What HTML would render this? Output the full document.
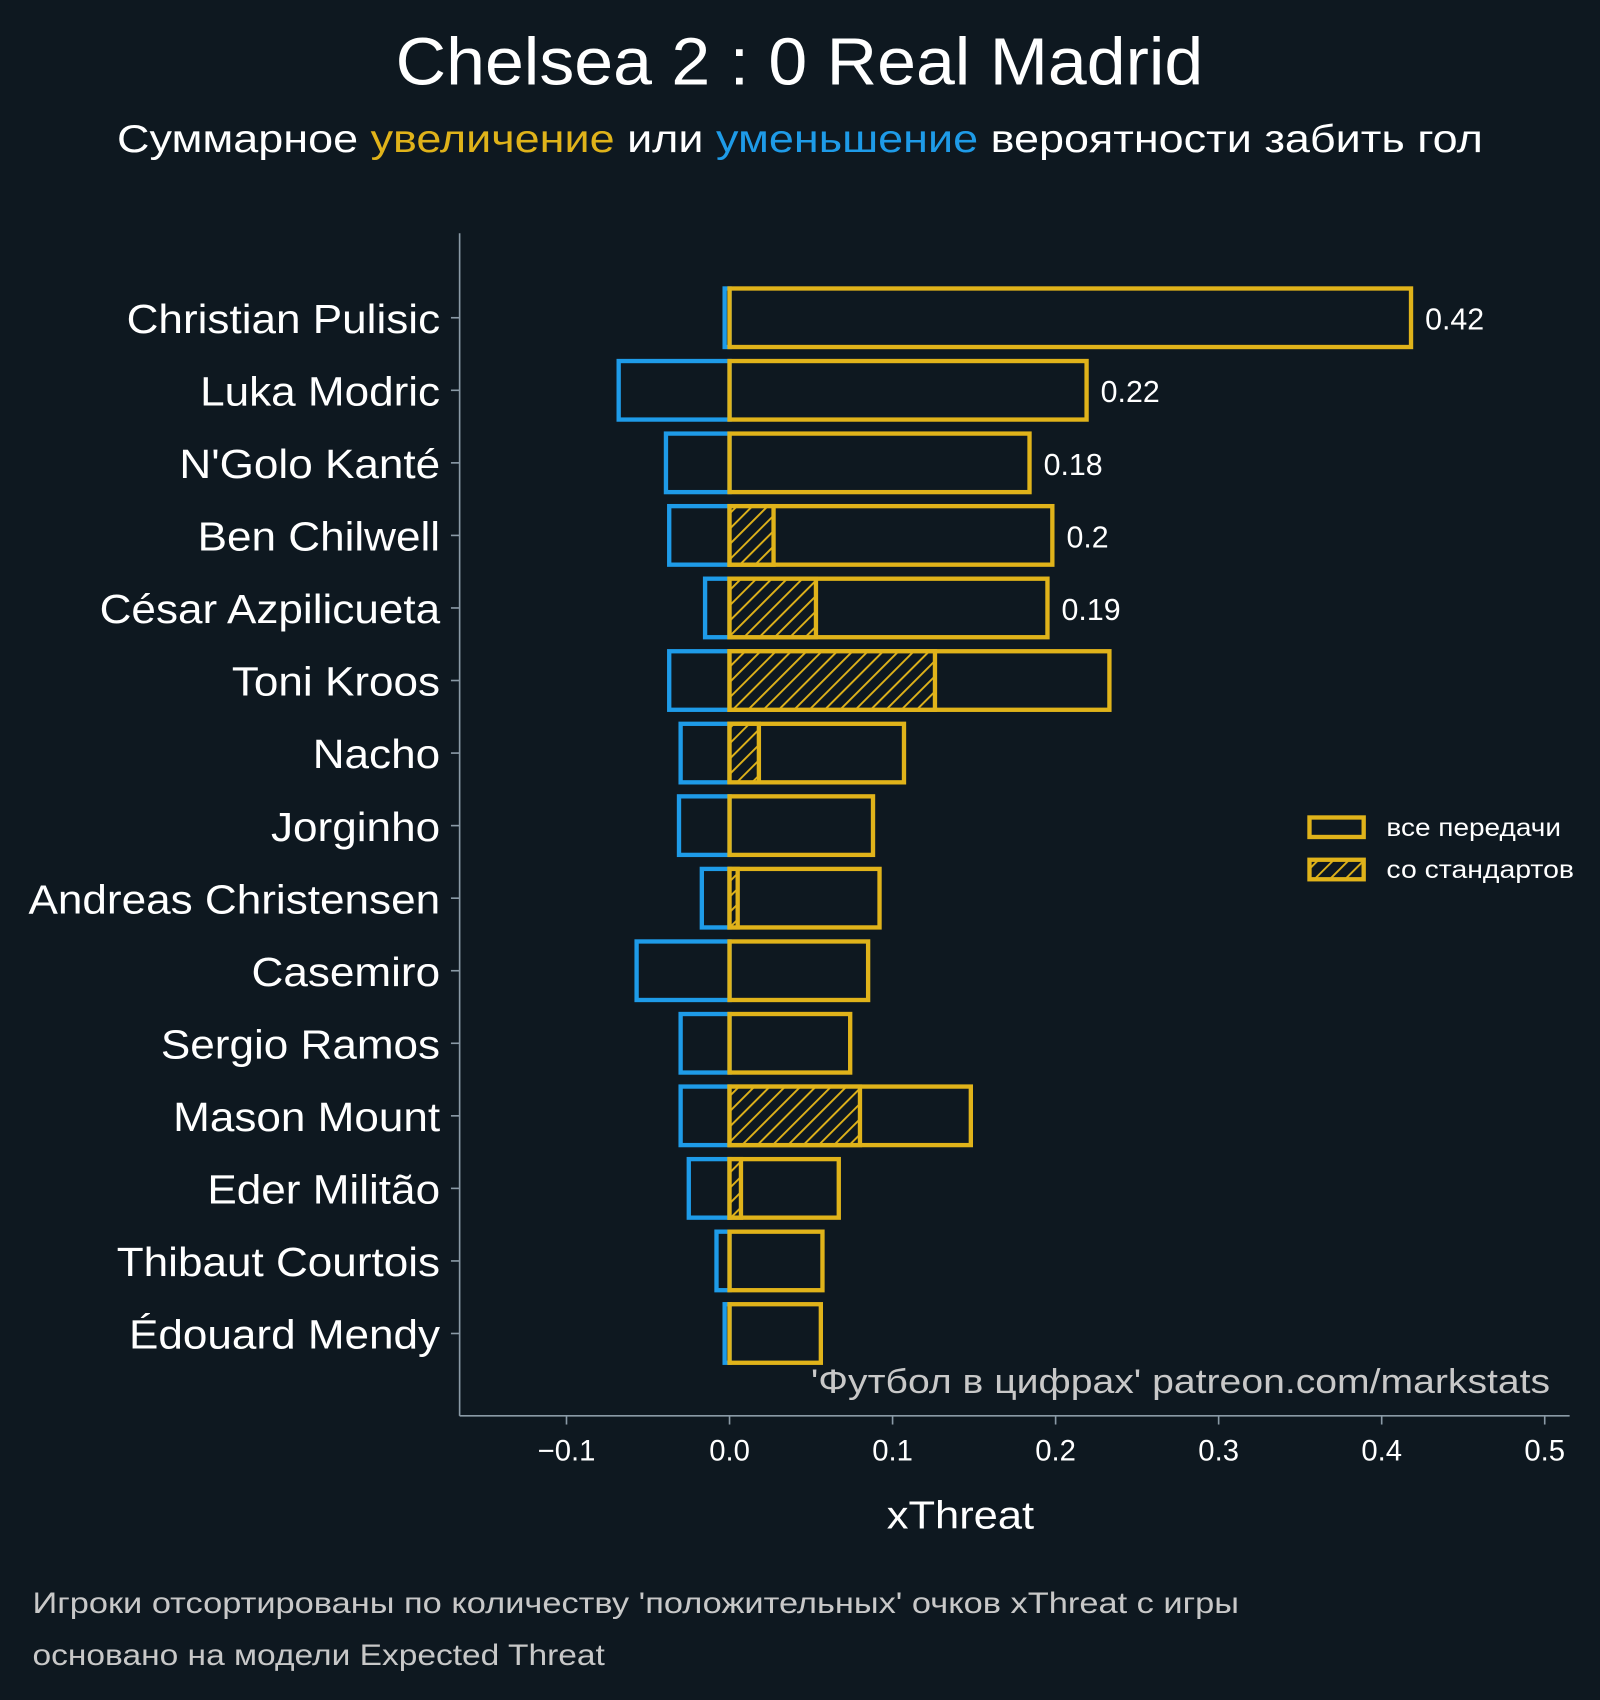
<!DOCTYPE html>
<html><head><meta charset="utf-8"><style>
html,body{margin:0;padding:0;background:#0e1820;}
svg{display:block;font-family:"Liberation Sans","DejaVu Sans",sans-serif;}
</style></head><body>
<svg id="chart" width="1600" height="1700" viewBox="0 0 1476 1568" xmlns="http://www.w3.org/2000/svg">
<defs>
<pattern id="hatch" patternUnits="userSpaceOnUse" width="10" height="10" patternTransform="rotate(45)">
<rect width="10" height="10" fill="#0e1820"/>
<line x1="0" y1="0" x2="0" y2="10" stroke="#e0b31a" stroke-width="3.5"/>
</pattern>
</defs>
<rect width="1476" height="1568" fill="#0e1820"/>
<text x="365" y="78" textLength="745" lengthAdjust="spacingAndGlyphs" fill="#ffffff" font-size="62">Chelsea 2 : 0 Real Madrid</text>
<text x="108" y="140" textLength="1260" lengthAdjust="spacingAndGlyphs" fill="#ffffff" font-size="36">Суммарное <tspan fill="#e0b31a">увеличение</tspan> или <tspan fill="#1e9be8">уменьшение</tspan> вероятности забить гол</text>
<g id="plot"></g>
<text x="748" y="1285" textLength="682" lengthAdjust="spacingAndGlyphs" fill="#c8c8c8" font-size="32">'Футбол в цифрах' patreon.com/markstats</text>
<text x="818" y="1410" textLength="136" lengthAdjust="spacingAndGlyphs" fill="#ffffff" font-size="36">xThreat</text>
<g>
<rect x="1208" y="754" width="50" height="18" fill="none" stroke="#e0b31a" stroke-width="4"/>
<text x="1279" y="771" textLength="161" lengthAdjust="spacingAndGlyphs" fill="#ffffff" font-size="23">все передачи</text>
<rect x="1208" y="793" width="50" height="18" fill="url(#hatch)" stroke="#e0b31a" stroke-width="4"/>
<text x="1279" y="810" textLength="173" lengthAdjust="spacingAndGlyphs" fill="#ffffff" font-size="23">со стандартов</text>
</g>
<text x="30" y="1488" textLength="1113" lengthAdjust="spacingAndGlyphs" fill="#c8c8c8" font-size="27">Игроки отсортированы по количеству 'положительных' очков xThreat с игры</text>
<text x="30" y="1536" textLength="528" lengthAdjust="spacingAndGlyphs" fill="#c8c8c8" font-size="27">основано на модели Expected Threat</text>
</svg>
<script>
const players = ["Christian Pulisic","Luka Modric","N'Golo Kanté","Ben Chilwell","César Azpilicueta","Toni Kroos","Nacho","Jorginho","Andreas Christensen","Casemiro","Sergio Ramos","Mason Mount","Eder Militão","Thibaut Courtois","Édouard Mendy"];
const positiveValues = [0.418,0.219,0.184,0.198,0.195,0.233,0.107,0.088,0.092,0.085,0.074,0.148,0.067,0.057,0.056];
const negativeValues = [-0.003,-0.068,-0.039,-0.037,-0.015,-0.037,-0.030,-0.031,-0.017,-0.057,-0.030,-0.030,-0.025,-0.008,-0.003];
const setPieceValues = [0,0,0,0.027,0.053,0.126,0.018,0,0.005,0,0,0.080,0.007,0,0];
const valueLabels = ["0.42","0.22","0.18","0.2","0.19","","","","","","","","","",""];
const xTicks = [-0.1,0.0,0.1,0.2,0.3,0.4,0.5];
const xTickLabels = ["\u22120.1","0.0","0.1","0.2","0.3","0.4","0.5"];

const NS="http://www.w3.org/2000/svg";
const plot=document.getElementById('plot');
const x0=673, pxPerUnit=1504;
const xScale=v=>x0+v*pxPerUnit;
const rowTop=293, rowStep=66.93, barH=54;
const yScale=i=>rowTop+i*rowStep;
function mk(tag,attrs){const e=document.createElementNS(NS,tag);for(const k in attrs)e.setAttribute(k,attrs[k]);plot.appendChild(e);return e;}

let a=mk('line',{x1:424,y1:215,x2:424,y2:1306,stroke:'#8a9aa6','stroke-width':1.5});


a=mk('line',{x1:424,y1:1306,x2:1448,y2:1306,stroke:'#8a9aa6','stroke-width':1.5});



xTicks.forEach((t,i)=>{
  const x=xScale(t);
  const l=mk('line',{x1:x,y1:1306,x2:x,y2:1314,stroke:'#8a9aa6','stroke-width':1.5});
  
  
  const tx=mk('text',{x:x,y:1347,'text-anchor':'middle',fill:'#ffffff','font-size':27});
  tx.textContent=xTickLabels[i];
  
  
});

players.forEach((p,i)=>{
  const cy=yScale(i), top=cy-barH/2;
  const l=mk('line',{x1:416,y1:cy,x2:424,y2:cy,stroke:'#8a9aa6','stroke-width':1.5});
  
  
  const lab=mk('text',{x:406,y:cy+14,'text-anchor':'end',fill:'#ffffff','font-size':38});
  lab.textContent=p;
  
  
  const w=lab.getComputedTextLength();
  lab.setAttribute('textLength',(w*1.07).toFixed(1));
  lab.setAttribute('lengthAdjust','spacingAndGlyphs');

  const nx=xScale(negativeValues[i]);
  const nb=mk('rect',{x:nx,y:top,width:Math.max(x0-nx,0.5),height:barH,fill:'none',stroke:'#1e9be8','stroke-width':4});
  
  

  const pw=xScale(positiveValues[i])-x0;
  const pb=mk('rect',{x:x0,y:top,width:pw,height:barH,fill:'none',stroke:'#e0b31a','stroke-width':4});
  
  

  if(setPieceValues[i]>0){
    const sw=xScale(setPieceValues[i])-x0;
    const sb=mk('rect',{x:x0,y:top,width:sw,height:barH,fill:'url(#hatch)',stroke:'#e0b31a','stroke-width':4});
    
    
  }
  if(valueLabels[i]){
    const vl=mk('text',{x:xScale(positiveValues[i])+13,y:cy+11,fill:'#ffffff','font-size':28});
    vl.textContent=valueLabels[i];
    
    
  }
});
</script>
</body></html>
